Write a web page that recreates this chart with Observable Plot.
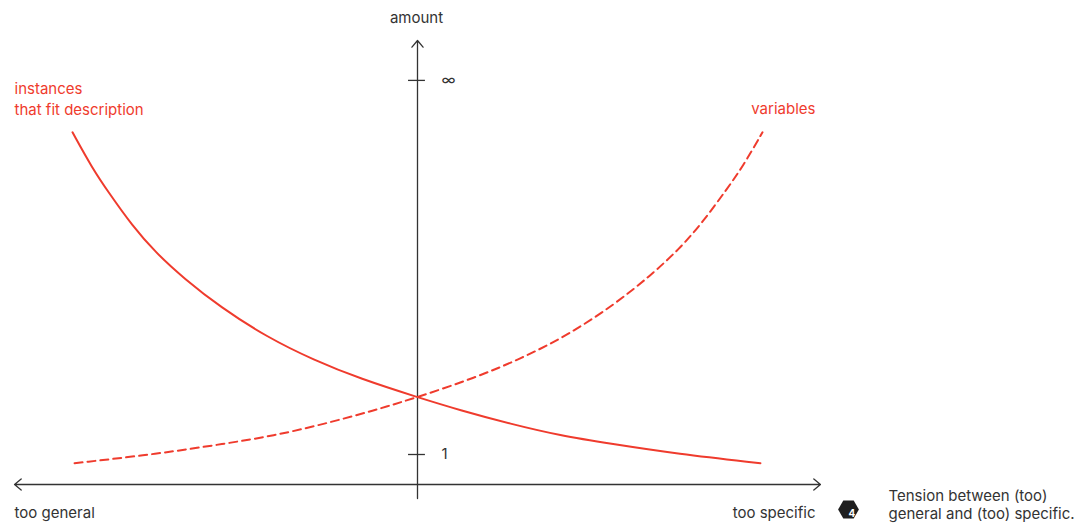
<!DOCTYPE html>
<html>
<head>
<meta charset="utf-8">
<script src="https://cdn.jsdelivr.net/npm/d3@7"></script>
<script src="https://cdn.jsdelivr.net/npm/@observablehq/plot@0.6"></script>
<style>
  html, body { margin: 0; padding: 0; background: #fff; }
  #chart { width: 1074px; height: 524px; }
</style>
</head>
<body>
<div id="chart"></div>
<script>
// specificity: -1 = too general, +1 = too specific
const instX = [-1.0, -0.943, -0.895, -0.827, -0.759, -0.677, -0.571, -0.436, -0.301, -0.165, 0, 0.125, 0.27, 0.414, 0.559, 0.753, 0.994];
const instY = [11.74, 10.55, 9.73, 8.63, 7.73, 6.87, 5.91, 4.91, 4.15, 3.52, 2.91, 2.47, 2.02, 1.63, 1.36, 1.02, 0.71];
const varX  = [-0.994, -0.753, -0.559, -0.414, -0.27, -0.125, 0, 0.165, 0.301, 0.436, 0.571, 0.677, 0.759, 0.827, 0.895, 0.943, 1.0];
const varY  = [0.71, 1.02, 1.36, 1.63, 2.02, 2.47, 2.91, 3.55, 4.2, 4.98, 6.0, 6.98, 7.85, 8.75, 9.82, 10.6, 11.74];
const tickValues = [1, 13.47];
const tickLabels = ["1", "∞"];
const seriesNames = ["instances\nthat fit description", "variables"];
const xLabels = ["too general", "too specific"];
const yLabel = "amount";
const caption = "Tension between (too)\ngeneral and (too) specific.";
const badge = "4";

const red = "#ef3b2d";
const ink = "#333333";
const font = "Inter, 'Liberation Sans', sans-serif";

const inst = instX.map((x, i) => ({x, y: instY[i]}));
const vars = varX.map((x, i) => ({x, y: varY[i]}));
const ticks = tickValues.map((v, i) => ({v, label: tickLabels[i]}));

const xEnd = 1.168;

const chart = Plot.plot({
  width: 1074,
  height: 524,
  margin: 0,
  style: {fontFamily: font, fontSize: "15px", color: ink, background: "#fff"},
  x: {domain: [-1, 1], range: [72, 762], axis: null},
  y: {domain: [0, 1], range: [484, 454], axis: null},
  marks: [
    // horizontal axis with arrows both ways
    Plot.arrow([{x1: 0, x2: -xEnd}, {x1: 0, x2: xEnd}], {
      x1: "x1", x2: "x2", y1: 0, y2: 0,
      stroke: ink, strokeWidth: 1.3, headLength: 10, headAngle: 80
    }),
    // vertical axis
    Plot.arrow([{}], {
      x1: 0, x2: 0, y1: -0.47, y2: 14.8,
      stroke: ink, strokeWidth: 1.3, headLength: 10, headAngle: 80
    }),
    // y ticks
    Plot.ruleY(ticks, {y: "v", x1: -0.026, x2: 0.023, stroke: ink, strokeWidth: 1.3}),
    Plot.text(ticks, {y: "v", x: 0, text: "label", textAnchor: "start", dx: 24, fill: ink, fontSize: 15}),
    // curves
    Plot.line(inst, {x: "x", y: "y", stroke: red, strokeWidth: 2, curve: "basis"}),
    Plot.line(vars, {x: "x", y: "y", stroke: red, strokeWidth: 2, strokeDasharray: "8,5", curve: "basis"}),
    // series labels
    Plot.text([seriesNames[0]], {x: -xEnd, y: 13.2, text: d => d, textAnchor: "start", lineAnchor: "top", dy: -9, fill: red, fontSize: 15, lineHeight: 1.4}),
    Plot.text([seriesNames[1]], {x: xEnd, y: 12.5, text: d => d, textAnchor: "end", fill: red, fontSize: 15, dx: -5}),
    // axis titles
    Plot.text([yLabel], {x: 0, y: 15.53, text: d => d, fill: ink, fontSize: 15, dx: -1}),
    Plot.text([xLabels[0]], {x: -xEnd, y: -0.95, text: d => d, textAnchor: "start", fill: ink, fontSize: 15}),
    Plot.text([xLabels[1]], {x: xEnd, y: -0.95, text: d => d, textAnchor: "end", fill: ink, fontSize: 15, dx: -5}),
    // caption with badge
    Plot.dot([badge], {frameAnchor: "top-left", dx: 848, dy: 509, r: 9, symbol: "hexagon", rotate: 30, fill: "#1e1e1e", stroke: "none"}),
    Plot.text([badge], {frameAnchor: "top-left", dx: 848, dy: 509, text: d => d, fill: "#fff", fontSize: 10, fontWeight: "bold"}),
    Plot.text([caption], {frameAnchor: "top-left", dx: 888, dy: 488, text: d => d, textAnchor: "start", lineAnchor: "top", fill: ink, fontSize: 15, lineHeight: 1.2})
  ]
});
document.getElementById("chart").appendChild(chart);
</script>
</body>
</html>
